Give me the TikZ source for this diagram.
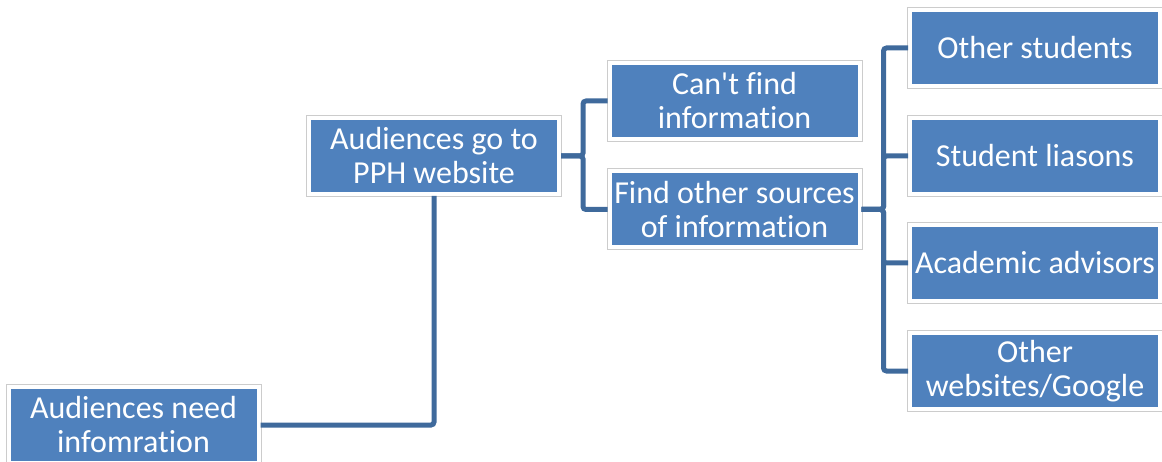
\documentclass[tikz,border=0pt]{standalone}
\usepackage{fontspec}
\setmainfont{Carlito}[Ligatures={NoCommon,TeXOff}]
\definecolor{boxblue}{HTML}{4F81BD}
\definecolor{linkblue}{HTML}{3F6A9C}

\begin{document}
\begin{tikzpicture}[x=1pt,y=-1pt,
        box/.style={fill=boxblue,draw=white,line width=4pt,preaction={draw=black!20,line width=6pt},
            minimum width=250pt,minimum height=76pt,inner sep=0pt,text=white,align=center,
            font=\fontsize{32}{34}\selectfont},
        link/.style={draw=linkblue,line width=5pt,rounded corners=3pt}]

    \useasboundingbox (0,0) rectangle (1162,462);

    \node[box] (need)    at (133.5,425) {Audiences need\\infomration};
    \node[box] (website) at (434,156)   {Audiences go to\\PPH website};
    \node[box] (cantfind) at (734.5,101) {Can't find\\information};
    \node[box] (sources) at (734.5,209.5) {Find other sources\\of information};
    \node[box] (students) at (1035,48)  {Other students};
    \node[box] (liasons)  at (1035,156) {Student liasons};
    \node[box] (advisors) at (1035,263) {Academic advisors};
    \node[box] (google)   at (1035,371) {Other\\websites/Google};

    \draw[link] (need.east) -| (website.south);
    \draw[link] (website.east) -- +(22,0) |- (cantfind.west);
    \draw[link] (website.east) -- +(22,0) |- (sources.west);
    \foreach \n in {students,liasons,advisors,google}
        \draw[link] (sources.east) -- +(22,0) |- (\n.west);

\end{tikzpicture}
\end{document}
